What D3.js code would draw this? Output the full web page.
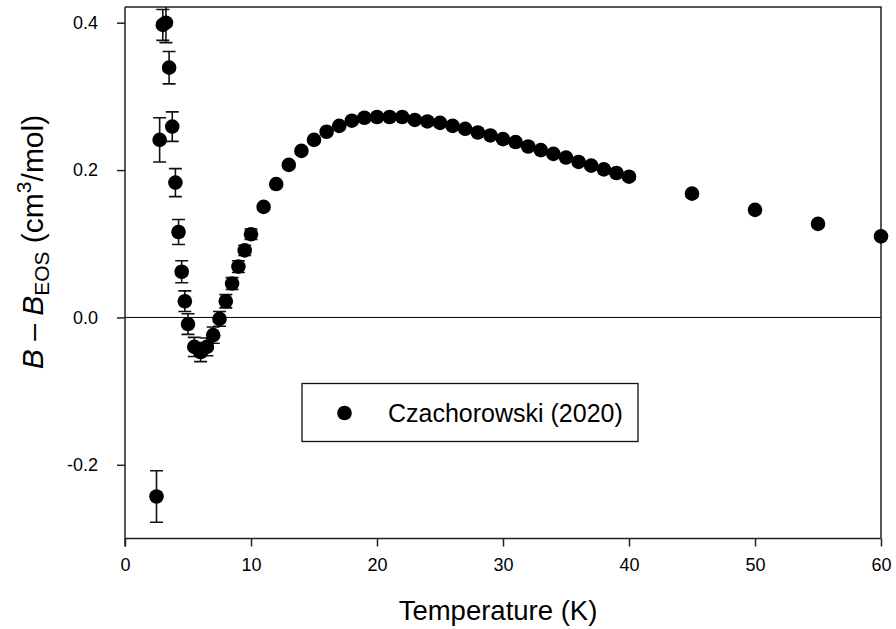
<!DOCTYPE html>
<html>
<head>
<meta charset="utf-8">
<script src="https://cdn.jsdelivr.net/npm/d3@7"></script>
<style>
  html, body { margin: 0; padding: 0; background: #fff; }
  svg { display: block; font-family: "Liberation Sans", Arial, sans-serif; }
</style>
</head>
<body>
<svg id="chart" width="896" height="629"></svg>
<script>
// Second virial coefficient deviation from the equation of state, B - B_EOS
const temperatures = [2.5, 2.75, 3, 3.25, 3.5, 3.75, 4, 4.25, 4.5, 4.75, 5, 5.5, 6, 6.5, 7, 7.5, 8, 8.5, 9, 9.5, 10,
  11, 12, 13, 14, 15, 16, 17, 18, 19, 20, 21, 22, 23, 24, 25, 26, 27, 28, 29, 30,
  31, 32, 33, 34, 35, 36, 37, 38, 39, 40, 45, 50, 55, 60];
const deviations = [-0.243, 0.241, 0.397, 0.400, 0.339, 0.259, 0.183, 0.116, 0.062, 0.022, -0.009, -0.040, -0.047, -0.040, -0.024, -0.002, 0.022, 0.046, 0.069, 0.091, 0.113,
  0.150, 0.181, 0.207, 0.226, 0.241, 0.252, 0.260, 0.267, 0.271, 0.272, 0.272, 0.272, 0.268, 0.266, 0.264, 0.260, 0.256, 0.251, 0.247, 0.242,
  0.238, 0.232, 0.227, 0.222, 0.217, 0.211, 0.206, 0.201, 0.196, 0.191, 0.168, 0.146, 0.127, 0.110];
const uncertainties = [0.035, 0.030, 0.021, 0.027, 0.022, 0.020, 0.019, 0.017, 0.015, 0.014, 0.014, 0.013, 0.013, 0.012, 0.011, 0.010, 0.009, 0.008, 0.008, 0.007, 0.007,
  0, 0, 0, 0, 0, 0, 0, 0, 0, 0, 0, 0, 0, 0, 0, 0, 0, 0, 0, 0,
  0, 0, 0, 0, 0, 0, 0, 0, 0, 0, 0, 0, 0, 0];
const xTicks = [0, 10, 20, 30, 40, 50, 60];
const yTicks = [-0.2, 0.0, 0.2, 0.4];
const seriesName = "Czachorowski (2020)";

const points = temperatures.map((t, i) => ({ t, v: deviations[i], e: uncertainties[i] }));

const svg = d3.select("#chart");
const plot = { left: 125, right: 881, top: 7, bottom: 538.5 };

const x = d3.scaleLinear().domain([0, 60]).range([plot.left, plot.right]);
const y = d3.scaleLinear().domain([-0.3, 0.4213]).range([plot.bottom, plot.top]);

const axisColor = "#222";

// zero reference line
svg.append("line")
  .attr("x1", plot.left).attr("x2", plot.right)
  .attr("y1", y(0)).attr("y2", y(0))
  .attr("stroke", "#000").attr("stroke-width", 1);

// frame: top and right sides
svg.append("path")
  .attr("d", `M${plot.left},${plot.top}H${plot.right}V${plot.bottom}`)
  .attr("fill", "none").attr("stroke", axisColor).attr("stroke-width", 1.5);

// bottom axis
const xAxis = svg.append("g")
  .attr("transform", `translate(0,${plot.bottom})`)
  .call(d3.axisBottom(x).tickValues(xTicks).tickSize(8).tickPadding(12).tickFormat(d3.format("d")));
xAxis.select(".domain").attr("d", `M${plot.left},0H${plot.right}`).attr("stroke", axisColor).attr("stroke-width", 1.5);
xAxis.selectAll(".tick line").attr("stroke", axisColor).attr("stroke-width", 1.5);
xAxis.selectAll(".tick text").attr("font-size", 18).attr("fill", "#000").attr("font-family", "Liberation Sans, Arial, sans-serif");

// left axis
const yAxis = svg.append("g")
  .attr("transform", `translate(${plot.left},0)`)
  .call(d3.axisLeft(y).tickValues(yTicks).tickSize(8).tickPadding(19).tickFormat(d3.format(".1f")));
yAxis.select(".domain").attr("d", `M0,${plot.top}V${plot.bottom + 8}`).attr("stroke", axisColor).attr("stroke-width", 1.5);
yAxis.selectAll(".tick line").attr("stroke", axisColor).attr("stroke-width", 1.5);
yAxis.selectAll(".tick text").attr("font-size", 18).attr("fill", "#000").attr("font-family", "Liberation Sans, Arial, sans-serif")
  .text(d => d3.format(".1f")(d).replace("−", "-"));

// error bars, clipped to the plotting area
svg.append("clipPath").attr("id", "plot-clip")
  .append("rect")
  .attr("x", plot.left).attr("y", plot.top)
  .attr("width", plot.right - plot.left).attr("height", plot.bottom - plot.top);

const capHalf = 6.5;
svg.append("g").attr("clip-path", "url(#plot-clip)")
  .attr("stroke", "#111").attr("stroke-width", 1.6).attr("fill", "none")
  .selectAll("path")
  .data(points.filter(d => d.e > 0))
  .join("path")
  .attr("d", d => {
    const cx = x(d.t), y1 = y(d.v + d.e), y2 = y(d.v - d.e);
    return `M${cx},${y1}V${y2}M${cx - capHalf},${y1}H${cx + capHalf}M${cx - capHalf},${y2}H${cx + capHalf}`;
  });

// data points
svg.append("g")
  .selectAll("circle")
  .data(points)
  .join("circle")
  .attr("cx", d => x(d.t))
  .attr("cy", d => y(d.v))
  .attr("r", 7.3)
  .attr("fill", "#000");

// legend
const legend = svg.append("g").attr("transform", "translate(302,383.5)");
legend.append("rect")
  .attr("width", 336).attr("height", 58)
  .attr("fill", "#fff").attr("stroke", "#111").attr("stroke-width", 1.3);
legend.append("circle").attr("cx", 42.5).attr("cy", 29.5).attr("r", 7.3).attr("fill", "#000");
legend.append("text")
  .attr("x", 86).attr("y", 38.5)
  .attr("font-size", 25)
  .attr("fill", "#000")
  .text(seriesName);

// axis titles
svg.append("text")
  .attr("x", 498).attr("y", 620)
  .attr("text-anchor", "middle")
  .attr("font-size", 27.5)
  .attr("fill", "#000")
  .text("Temperature (K)");

const yTitle = svg.append("text")
  .attr("transform", "translate(43,242) rotate(-90)")
  .attr("text-anchor", "middle")
  .attr("font-size", 30)
  .attr("fill", "#000");
yTitle.append("tspan").attr("font-style", "italic").text("B");
yTitle.append("tspan").text(" \u2013 ");
yTitle.append("tspan").attr("font-style", "italic").text("B");
yTitle.append("tspan").attr("font-size", 21).attr("dy", 6).text("EOS");
yTitle.append("tspan").attr("dy", -6).text(" (cm");
yTitle.append("tspan").attr("font-size", 21).attr("dy", -12).text("3");
yTitle.append("tspan").attr("dy", 12).text("/mol)");
</script>
</body>
</html>
